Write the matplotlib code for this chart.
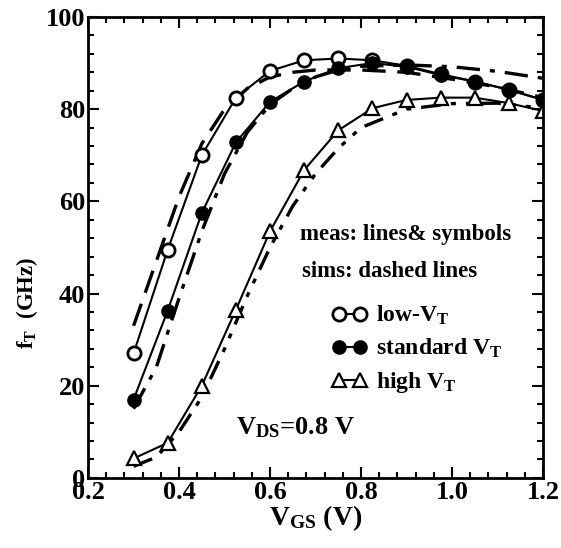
import numpy as np
import matplotlib
matplotlib.use('Agg')
import matplotlib.pyplot as plt
from matplotlib.ticker import MultipleLocator

plt.rcParams['font.family'] = ['Liberation Serif', 'DejaVu Serif']
plt.rcParams['font.weight'] = 'bold'
plt.rcParams['axes.labelweight'] = 'bold'
plt.rcParams['mathtext.fontset'] = 'custom'
plt.rcParams['mathtext.rm'] = 'Liberation Serif:bold'
plt.rcParams['mathtext.it'] = 'Liberation Serif:bold'
plt.rcParams['mathtext.bf'] = 'Liberation Serif:bold'

# measured data (lines & symbols)
vgs_meas = [0.3, 0.375, 0.45, 0.525, 0.6, 0.675, 0.75, 0.825, 0.9, 0.975, 1.05, 1.125, 1.2]
ft_low = [27, 49.5, 70, 82.5, 88.3, 90.6, 91.0, 90.6, 89.4, 87.6, 86.0, 84.2, 82.0]
ft_std = [17, 36.3, 57.5, 72.8, 81.6, 86.0, 88.9, 90.0, 89.2, 87.4, 86.0, 84.2, 82.0]
ft_high = [4.2, 7.6, 20, 36.5, 53.5, 66.8, 75.4, 80.2, 82.0, 82.5, 82.5, 81.3, 79.6]

# simulated data (dashed lines)
vgs_sim = [0.3, 0.35, 0.4, 0.45, 0.5, 0.55, 0.6, 0.65, 0.7, 0.75, 0.8, 0.9, 1.0, 1.1, 1.2]
sim_low = [33, 47, 61, 72.5, 80, 84.5, 87, 88, 88.5, 88.5, 88.5, 88, 86.5, 84.8, 82.5]
sim_std = [15, 24, 39, 53.5, 66, 75, 81, 84.5, 87, 88.5, 89.3, 89.6, 89.2, 88.2, 86.7]
sim_high = [2.5, 4.5, 10, 17.5, 28, 39.5, 50, 59, 66, 71.5, 76, 80, 81.2, 81.3, 80.2]

fig = plt.figure(figsize=(5.61, 5.48), dpi=100)
ax = fig.add_axes([0.157, 0.128, 0.811, 0.841])

# sims
ax.plot(vgs_sim, sim_low, color='black', lw=2.4, dashes=(7, 3.5))
ax.plot(vgs_sim, sim_std, color='black', lw=2.4, dashes=(7, 3, 1.5, 3))
ax.plot(vgs_sim, sim_high, color='black', lw=2.4, dashes=(6, 3, 1.5, 3, 1.5, 3))

# measurements
h_low, = ax.plot(vgs_meas, ft_low, color='black', lw=1.5, marker='o', ms=9.5,
                 mfc='white', mec='black', mew=2, label='low-V$_\\mathrm{T}$')
h_std, = ax.plot(vgs_meas, ft_std, color='black', lw=1.5, marker='o', ms=9.5,
                 mfc='black', mec='black', label='standard V$_\\mathrm{T}$')
h_high, = ax.plot(vgs_meas, ft_high, color='black', lw=1.5, marker='^', ms=9.5,
                  mfc='white', mec='black', mew=1.6, label='high V$_\\mathrm{T}$')

ax.set_xlim(0.2, 1.2)
ax.set_ylim(0, 100)
ax.xaxis.set_major_locator(MultipleLocator(0.2))
ax.xaxis.set_minor_locator(MultipleLocator(0.04))
ax.yaxis.set_major_locator(MultipleLocator(20))
ax.yaxis.set_minor_locator(MultipleLocator(4))
ax.set_xticks([0.2, 0.4, 0.6, 0.8, 1.0, 1.2])
ax.set_xticklabels(['0.2', '0.4', '0.6', '0.8', '1.0', '1.2'])
ax.tick_params(which='both', direction='in', top=True, right=True, labelsize=19, width=1.5)
ax.tick_params(which='major', length=8, pad=2)
ax.tick_params(which='minor', length=4)
for s in ax.spines.values():
    s.set_linewidth(2)

ax.set_xlabel('V$_\\mathrm{GS}$ (V)', fontsize=20, labelpad=0)
ax.set_ylabel('f$_\\mathrm{T}$  (GHz)', fontsize=16.5)
ax.yaxis.set_label_coords(-0.105, 0.38)

ax.text(0.466, 0.527, 'meas: lines& symbols', transform=ax.transAxes, fontsize=16.5, va='center')
ax.text(0.47, 0.447, 'sims: dashed lines', transform=ax.transAxes, fontsize=16.5, va='center')
ax.text(0.325, 0.108, 'V$_\\mathrm{DS}$=0.8 V', transform=ax.transAxes, fontsize=19, va='center')

ax.legend(handles=[h_low, h_std, h_high], loc='upper left', bbox_to_anchor=(0.515, 0.398),
          frameon=False, numpoints=2, handlelength=1.5, handletextpad=0.35,
          labelspacing=0.42, fontsize=17, borderaxespad=0)

fig.savefig('out.png', dpi=100)
